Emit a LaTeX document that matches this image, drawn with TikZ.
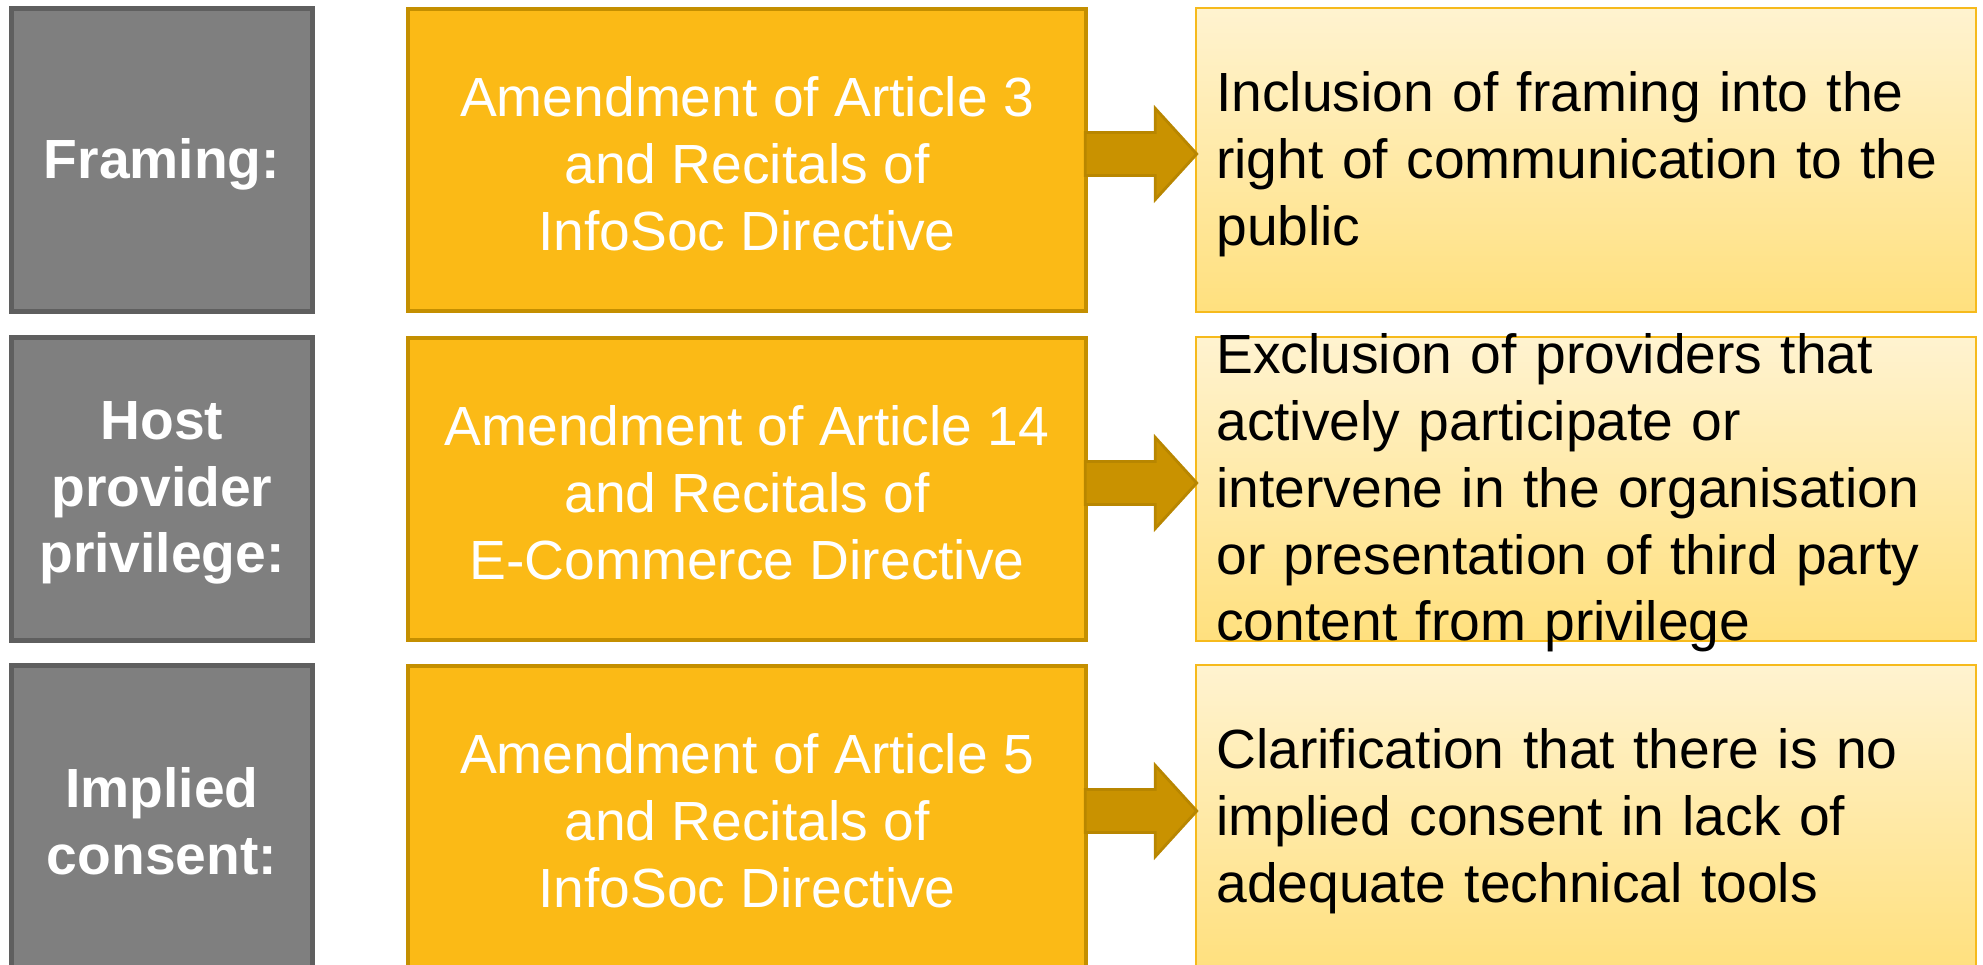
\documentclass[tikz,border=0pt]{standalone}
\usepackage{fontspec}
\setmainfont{Liberation Sans}
\usetikzlibrary{calc}
\definecolor{slate}{HTML}{7F7F7F}
\definecolor{slateline}{HTML}{5F5F5F}
\definecolor{amber}{HTML}{FBBA16}
\definecolor{amberline}{HTML}{C48F00}
\definecolor{arrowfill}{HTML}{C99200}
\definecolor{arrowline}{HTML}{B88600}
\definecolor{paletop}{HTML}{FFF3D0}
\definecolor{palebot}{HTML}{FFE07E}
\definecolor{paleline}{HTML}{F6BA1C}
% fat block arrow from one box to the next
\newcommand{\fatarrow}[2]{%
  \fill[arrowfill,draw=arrowline,line width=.8pt,line join=miter]
    ($(#1.east)+(-3,-27.5)$) -- ++(70,0) -- ++(0,-24) -- ($(#2.west)+(2,-6)$)
    -- ($(#1.east)+(67,39.5)$) -- ++(0,-24) -- ($(#1.east)+(-3,15.5)$) -- cycle;}
\begin{document}
\begin{tikzpicture}[x=0.01cm,y=-0.01cm,
  words/.style={inner sep=0pt,yshift=-.04cm,font=\fontsize{15.7}{19}\selectfont},
  topic/.style={draw=slateline,line width=1.4pt,fill=slate,
    minimum width=3.01cm,minimum height=3.02cm,
    label={[words,text=white,align=center,font=\fontsize{15.7}{19}\selectfont\bfseries]center:{#1}}},
  change/.style={draw=amberline,line width=1.2pt,fill=amber,
    minimum width=6.78cm,minimum height=3.02cm,
    label={[words,text=white,align=center]center:{#1}}},
  effect/.style={draw=paleline,line width=.6pt,top color=paletop,bottom color=palebot,
    minimum width=7.8cm,minimum height=3.03cm,
    label={[words,text width=7.39cm,align=left]center:{#1}}}]
\useasboundingbox (0,0) rectangle (1983,965);
% first row
\node[topic={Framing:}] (topic1) at (162,160) {};
\node[change={Amendment of Article 3\\and Recitals of\\InfoSoc Directive}] (change1) at (747,160) {};
\node[effect={Inclusion of framing into the\\right of communication to the\\public}] (effect1) at (1586,160) {};
% second row
\node[topic={Host\\provider\\privilege:}] (topic2) at (162,489) {};
\node[change={Amendment of Article 14\\and Recitals of\\E-Commerce Directive}] (change2) at (747,489) {};
\node[effect={Exclusion of providers that\\actively participate or\\intervene in the organisation\\or presentation of third party\\content from privilege}] (effect2) at (1586,489) {};
% third row
\node[topic={Implied\\consent:}] (topic3) at (162,817) {};
\node[change={Amendment of Article 5\\and Recitals of\\InfoSoc Directive}] (change3) at (747,817) {};
\node[effect={Clarification that there is no\\implied consent in lack of\\adequate technical tools}] (effect3) at (1586,817) {};
\fatarrow{change1}{effect1}
\fatarrow{change2}{effect2}
\fatarrow{change3}{effect3}
\end{tikzpicture}
\end{document}
